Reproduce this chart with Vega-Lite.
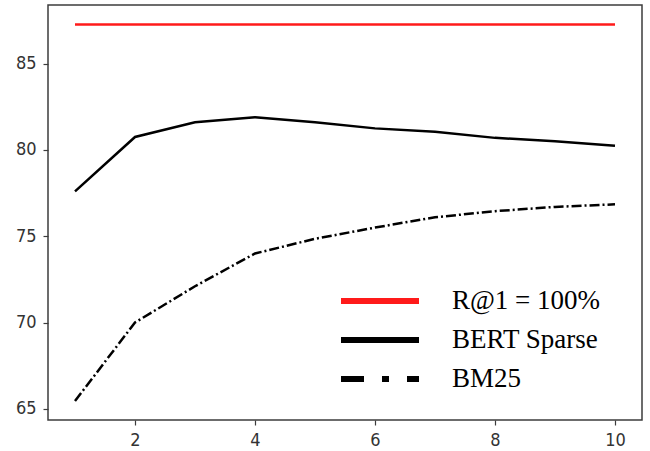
{
  "$schema": "https://vega.github.io/schema/vega-lite/v6.json",
  "width": 594,
  "height": 415,
  "autosize": {"type": "none"},
  "padding": {"left": 48, "top": 5, "right": 8, "bottom": 31},
  "background": "white",
  "config": {
    "view": {"stroke": "#3c3c3c", "strokeWidth": 1.5},
    "axis": {
      "domain": false,
      "grid": false,
      "tickColor": "#3c3c3c",
      "tickWidth": 1.2,
      "tickSize": 5,
      "labelFont": "DejaVu Sans Condensed, DejaVu Sans",
      "labelFontSize": 18,
      "labelColor": "#333333",
      "title": null
    }
  },
  "data": {
    "values": [
      {"k": 1, "v": 87.27, "s": "R@1 = 100%"},
      {"k": 10, "v": 87.27, "s": "R@1 = 100%"},
      {"k": 1, "v": 77.6, "s": "BERT Sparse"},
      {"k": 2, "v": 80.75, "s": "BERT Sparse"},
      {"k": 3, "v": 81.6, "s": "BERT Sparse"},
      {"k": 4, "v": 81.9, "s": "BERT Sparse"},
      {"k": 5, "v": 81.6, "s": "BERT Sparse"},
      {"k": 6, "v": 81.25, "s": "BERT Sparse"},
      {"k": 7, "v": 81.05, "s": "BERT Sparse"},
      {"k": 8, "v": 80.7, "s": "BERT Sparse"},
      {"k": 9, "v": 80.5, "s": "BERT Sparse"},
      {"k": 10, "v": 80.25, "s": "BERT Sparse"},
      {"k": 1, "v": 65.45, "s": "BM25"},
      {"k": 2, "v": 70.0, "s": "BM25"},
      {"k": 3, "v": 72.1, "s": "BM25"},
      {"k": 4, "v": 74.0, "s": "BM25"},
      {"k": 5, "v": 74.85, "s": "BM25"},
      {"k": 6, "v": 75.5, "s": "BM25"},
      {"k": 7, "v": 76.1, "s": "BM25"},
      {"k": 8, "v": 76.45, "s": "BM25"},
      {"k": 9, "v": 76.7, "s": "BM25"},
      {"k": 10, "v": 76.85, "s": "BM25"}
    ]
  },
  "encoding": {
    "x": {
      "field": "k",
      "type": "quantitative",
      "scale": {"domain": [0.55, 10.45], "nice": false, "zero": false},
      "axis": {"values": [2, 4, 6, 8, 10], "labelPadding": 6}
    },
    "y": {
      "field": "v",
      "type": "quantitative",
      "scale": {"domain": [64.35, 88.4], "nice": false, "zero": false},
      "axis": {"values": [65, 70, 75, 80, 85], "labelPadding": 7}
    },
    "color": {
      "field": "s",
      "type": "nominal",
      "sort": null,
      "scale": {
        "domain": ["R@1 = 100%", "BERT Sparse", "BM25"],
        "range": ["#ff1a1a", "#000000", "#000000"]
      },
      "legend": {
        "title": null,
        "orient": "none",
        "legendX": 316,
        "legendY": 280,
        "symbolType": "M-3,0H3",
        "symbolSize": 676,
        "symbolStrokeWidth": 6,
        "symbolFillColor": "transparent",
        "labelFont": "Liberation Serif",
        "labelFontSize": 27,
        "labelColor": "#000000",
        "labelOffset": 56,
        "rowPadding": 10,
        "labelLimit": 300,
        "encode": {
          "symbols": {
            "update": {
              "strokeDash": {"signal": "datum.value === 'BM25' ? [23, 18, 7, 18] : [1, 0]"}
            }
          }
        }
      }
    }
  },
  "layer": [
    {
      "transform": [{"filter": "datum.s !== 'BM25'"}],
      "mark": {"type": "line", "strokeWidth": 2.5, "clip": true}
    },
    {
      "transform": [{"filter": "datum.s === 'BM25'"}],
      "mark": {"type": "line", "strokeWidth": 2.5, "clip": true, "strokeDash": [10, 3, 2, 3]}
    }
  ]
}
